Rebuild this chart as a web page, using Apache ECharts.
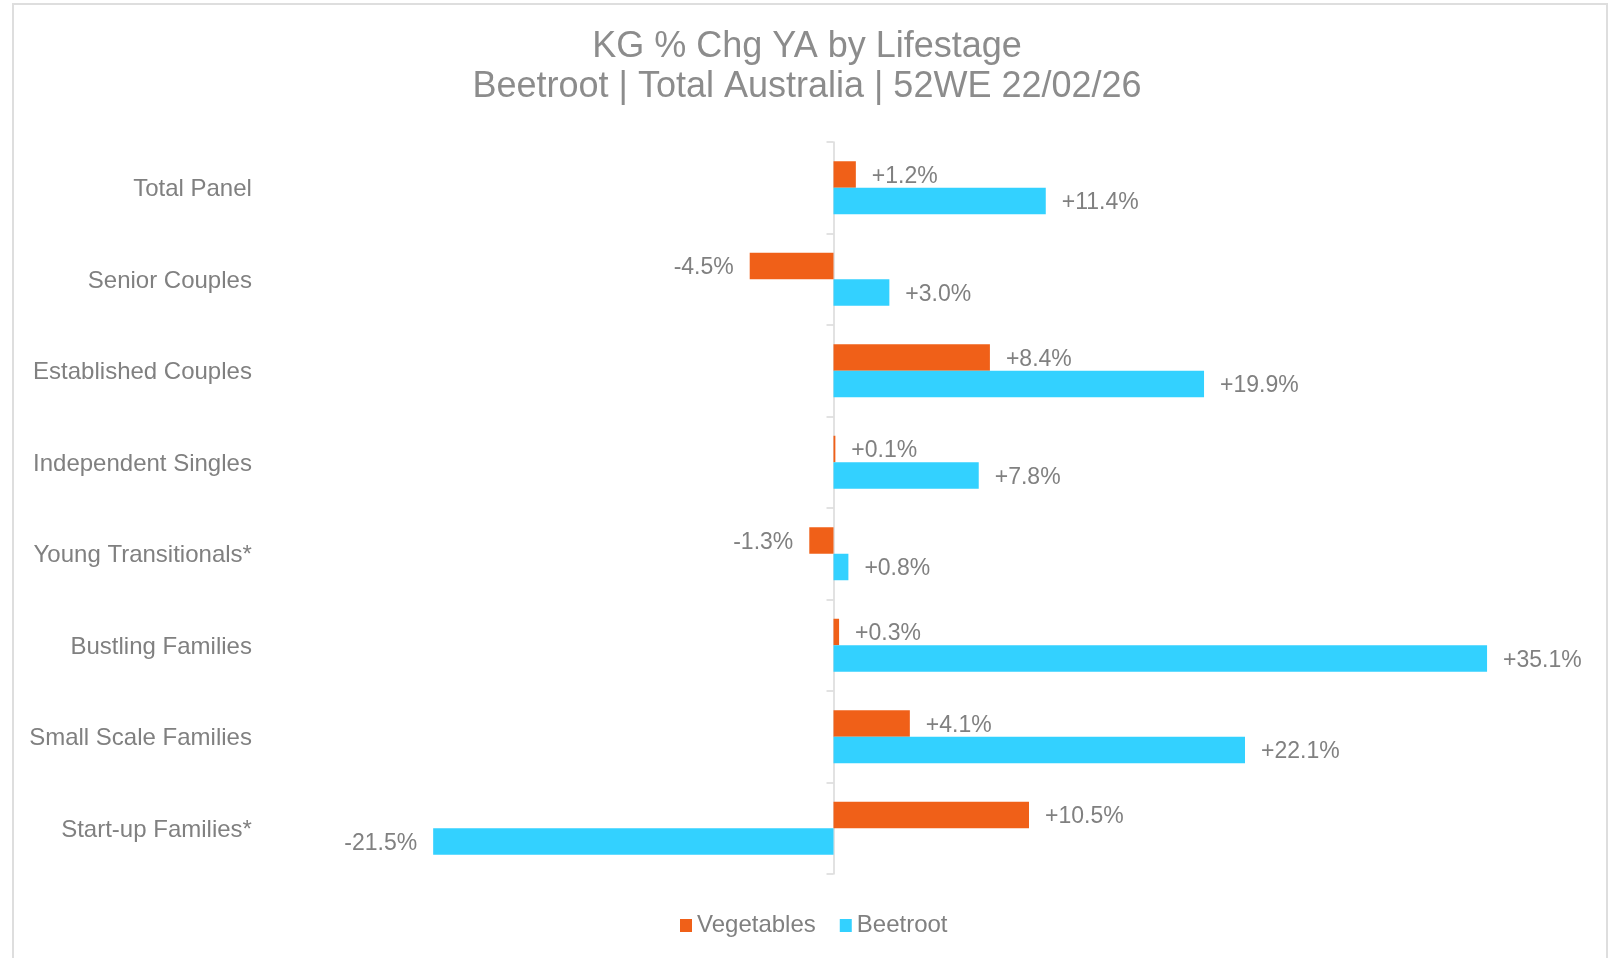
<!DOCTYPE html>
<html>
<head>
<meta charset="utf-8">
<title>KG % Chg YA by Lifestage</title>
<script src="https://cdn.jsdelivr.net/npm/echarts@6/dist/echarts.min.js"></script>
<style>
  html, body { margin: 0; padding: 0; background: #ffffff; }
  #chart { width: 1614px; height: 958px; }
</style>
</head>
<body>
<div id="chart"></div>
<script>
// Lifestage segments, listed top to bottom
const categories = [
  'Total Panel',
  'Senior Couples',
  'Established Couples',
  'Independent Singles',
  'Young Transitionals*',
  'Bustling Families',
  'Small Scale Families',
  'Start-up Families*'
];

// KG % change vs year ago
const vegetables = [1.2, -4.5, 8.4, 0.1, -1.3, 0.3, 4.1, 10.5];
const beetroot = [11.4, 3.0, 19.9, 7.8, 0.8, 35.1, 22.1, -21.5];

const seriesNames = ['Vegetables', 'Beetroot'];
const titleLines = ['KG % Chg YA by Lifestage', 'Beetroot | Total Australia | 52WE 22/02/26'];

const FONT = "'Liberation Sans', Arial, sans-serif";
const TEXT_GREY = '#808080';
const AXIS_GREY = '#d9d9d9';

// Labels sit past the outer end of each bar, on whichever side the value falls
function withLabels(values) {
  return values.map(v => ({
    value: v,
    label: { position: v < 0 ? 'left' : 'right' }
  }));
}

function fmt(p) {
  const v = p.value;
  return (v > 0 ? '+' : '') + v.toFixed(1) + '%';
}

const chart = echarts.init(document.getElementById('chart'), null, { renderer: 'canvas' });

// value labels, nudged so the digits sit centred on the bar
const barLabel = {
  show: true,
  distance: 16,
  offset: [0, 2],
  fontFamily: FONT,
  fontSize: 23,
  color: TEXT_GREY,
  formatter: fmt
};

chart.setOption({
  backgroundColor: '#ffffff',
  animation: false,
  textStyle: { fontFamily: FONT },
  graphic: [{
    // chart-area frame (open at the bottom edge of the page)
    type: 'rect',
    silent: true,
    shape: { x: 13, y: 4, width: 1594, height: 990 },
    style: { fill: 'none', stroke: '#dedede', lineWidth: 2 }
  }],
  title: {
    text: titleLines.join('\n'),
    left: 'center',
    top: 27.5,
    padding: 0,
    textStyle: {
      fontFamily: FONT,
      fontSize: 36,
      fontWeight: 'normal',
      color: '#8c8c8c',
      lineHeight: 40
    }
  },
  legend: {
    data: seriesNames,
    left: 680,
    top: 913.5,
    padding: 0,
    itemWidth: 12,
    itemHeight: 13,
    itemGap: 24,
    icon: 'rect',
    textStyle: { fontFamily: FONT, fontSize: 24, color: TEXT_GREY }
  },
  grid: {
    left: 274.9,
    top: 142,
    width: 1303.4,
    height: 732,
    containLabel: false,
    outerBoundsMode: 'none'
  },
  xAxis: {
    type: 'value',
    min: -30,
    max: 40,
    show: false,
    splitLine: { show: false }
  },
  yAxis: {
    type: 'category',
    data: categories,
    inverse: true,
    axisLine: { show: true, onZero: true, lineStyle: { color: AXIS_GREY, width: 1.5 } },
    axisTick: { show: true, length: 7, lineStyle: { color: AXIS_GREY, width: 1.5 } },
    axisLabel: {
      margin: 23,
      formatter: name => '{c|' + name + '}',
      rich: {
        c: {
          fontFamily: FONT,
          fontSize: 24,
          color: TEXT_GREY,
          padding: [4, 0, 0, 0]
        }
      }
    },
    splitLine: { show: false }
  },
  series: [
    {
      name: seriesNames[0],
      type: 'bar',
      data: withLabels(vegetables),
      barWidth: 26.5,
      barGap: '0%',
      itemStyle: { color: '#f06018' },
      label: barLabel
    },
    {
      name: seriesNames[1],
      type: 'bar',
      data: withLabels(beetroot),
      barWidth: 26.5,
      barGap: '0%',
      itemStyle: { color: '#33d1ff' },
      label: barLabel
    }
  ]
});
</script>
</body>
</html>
